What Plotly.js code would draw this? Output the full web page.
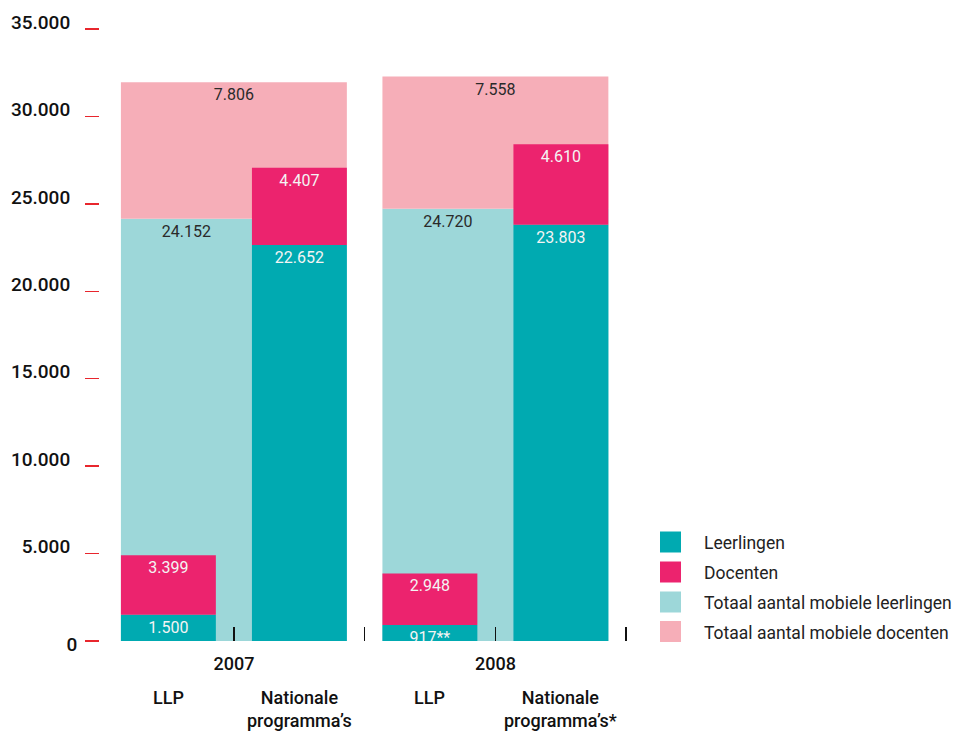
<!DOCTYPE html>
<html><head><meta charset="utf-8">
<script src="https://cdn.plot.ly/plotly-3.0.1.min.js"></script>
<style>html,body{margin:0;padding:0;background:#fff}</style>
</head><body><div id="chart" style="width:955px;height:731px"></div>
<script>
// ---- data ----
const years = ['2007', '2008'];
const llpLabel = 'LLP';
const natLabels = ['Nationale<br>programma’s', 'Nationale<br>programma’s*'];
const totaalLeerlingen = [24152, 24720];
const totaalDocenten = [7806, 7558];
const llpLeerlingen = [1500, 917];
const llpDocenten = [3399, 2948];
const llpLeerlingenNotes = ['', '**'];
const natLeerlingen = [22652, 23803];
const natDocenten = [4407, 4610];
const yTickValues = [5000, 10000, 15000, 20000, 25000, 30000, 35000];
const yZeroTick = [0];
const seriesNames = ['Leerlingen', 'Docenten', 'Totaal aantal mobiele leerlingen', 'Totaal aantal mobiele docenten'];

// ---- style ----
const C_TEAL = '#00aab1', C_MAG = '#ec236e', C_LTEAL = '#9dd7d9', C_PINK = '#f6aeb8';
const seriesColors = [C_TEAL, C_MAG, C_LTEAL, C_PINK];
const FONT = 'Roboto, "Liberation Sans", Arial, sans-serif';
const fmt = v => String(v).replace(/\B(?=(\d{3})+(?!\d))/g, '.');

const xs = years.map((y, i) => i);
const W_WIDE = 0.864, W_SMALL = 0.363;
const OFF_WIDE = -W_WIDE / 2, OFF_LLP = -W_WIDE / 2, OFF_NAT = W_WIDE / 2 - W_SMALL;

function bar(y, base, width, offset, color, text, tcolor) {
  const t = {
    type: 'bar', x: xs, y: y, width: xs.map(() => width), offset: xs.map(() => offset),
    marker: {color: color, line: {width: 0}},
    text: text, textposition: 'inside', insidetextanchor: 'end', constraintext: 'none',
    textangle: 0, textfont: {family: FONT, size: 16, color: tcolor},
    hoverinfo: 'skip', showlegend: false, cliponaxis: true
  };
  if (base) t.base = base;
  return t;
}

// label carrier for the visible (left) part of the total-pupils bar (on the overlaid y2, same scale)
const carrier = bar(totaalLeerlingen, null, W_WIDE - W_SMALL, OFF_WIDE, 'rgba(0,0,0,0)', totaalLeerlingen.map(fmt), '#2a2a2a');
carrier.yaxis = 'y2';

const data = [
  bar(totaalLeerlingen, null, W_WIDE, OFF_WIDE, C_LTEAL, null, '#2a2a2a'),
  bar(totaalDocenten, totaalLeerlingen, W_WIDE, OFF_WIDE, C_PINK, totaalDocenten.map(fmt), '#2a2a2a'),
  bar(llpLeerlingen, null, W_SMALL, OFF_LLP, C_TEAL, llpLeerlingen.map((v, i) => fmt(v) + llpLeerlingenNotes[i]), '#f4f4f4'),
  bar(llpDocenten, llpLeerlingen, W_SMALL, OFF_LLP, C_MAG, llpDocenten.map(fmt), '#f4f4f4'),
  bar(natLeerlingen, null, W_SMALL, OFF_NAT, C_TEAL, natLeerlingen.map(fmt), '#f4f4f4'),
  bar(natDocenten, natLeerlingen, W_SMALL, OFF_NAT, C_MAG, natDocenten.map(fmt), '#f4f4f4'),
  carrier
];

// layout geometry (pixels)
const ML = 100, MR = 321, MT = 29, MB = 90, H = 731, WID = 955;
const PW = WID - ML - MR, PH = H - MT - MB;
const px2paperX = p => (p - ML) / PW;
const px2paperY = p => (H - MB - p) / PH;

const annotations = [];
xs.forEach((x, i) => {
  annotations.push({x: x + OFF_LLP + W_SMALL / 2, xref: 'x', y: px2paperY(685), yref: 'paper',
    yanchor: 'top', xanchor: 'center', showarrow: false, text: llpLabel,
    font: {family: FONT, size: 18, color: '#111', weight: 500}});
  annotations.push({x: x + OFF_NAT + W_SMALL / 2, xref: 'x', y: px2paperY(685), yref: 'paper',
    yanchor: 'top', xanchor: 'center', showarrow: false, text: natLabels[i], align: 'center',
    font: {family: FONT, size: 18, color: '#111', weight: 500}});
});

const shapes = [];
const legY = [542, 572, 602, 631.5];
seriesNames.forEach((n, i) => {
  shapes.push({type: 'rect', xref: 'paper', yref: 'paper', layer: 'above',
    x0: px2paperX(660), x1: px2paperX(681), y0: px2paperY(legY[i] + 10.5), y1: px2paperY(legY[i] - 10.5),
    fillcolor: seriesColors[i], line: {width: 0}});
  annotations.push({xref: 'paper', yref: 'paper', x: px2paperX(702), y: px2paperY(legY[i] + 1),
    xanchor: 'left', yanchor: 'middle', showarrow: false, text: n,
    font: {family: FONT, size: 17.5, color: '#222'}});
});

const yCommon = {
  range: [0, 35000], fixedrange: true,
  ticks: 'outside', ticklen: 14, tickwidth: 1.5, tickcolor: '#e8262d',
  tickfont: {family: FONT, size: 19, color: '#111', weight: 500},
  showgrid: false, zeroline: false, showline: false
};

const layout = {
  width: WID, height: H,
  margin: {l: ML, r: MR, t: MT, b: MB, pad: 0},
  paper_bgcolor: '#fff', plot_bgcolor: '#fff',
  barmode: 'overlay', showlegend: false,
  font: {family: FONT, color: '#111'},
  xaxis: {
    type: 'linear', range: [-0.512, 1.53], fixedrange: true,
    tickvals: [0, 0.5, 1, 1.5], ticktext: [years[0], '', years[1], ''],
    ticks: 'inside', ticklen: 14, tickwidth: 1.5, tickcolor: '#111',
    ticklabelstandoff: 10,
    tickfont: {family: FONT, size: 18, color: '#111', weight: 500},
    showgrid: false, zeroline: false, showline: false
  },
  yaxis: Object.assign({}, yCommon, {
    tickvals: yTickValues, ticktext: yTickValues.map(fmt),
    ticklabelshift: -7, ticklabelstandoff: 11
  }),
  yaxis2: Object.assign({}, yCommon, {
    overlaying: 'y', side: 'left', anchor: 'x',
    tickvals: yZeroTick, ticktext: yZeroTick.map(fmt),
    ticklabelshift: 3, ticklabelstandoff: 4
  }),
  annotations: annotations,
  shapes: shapes
};

Plotly.newPlot('chart', data, layout, {displayModeBar: false, staticPlot: true});
</script>
</body></html>
